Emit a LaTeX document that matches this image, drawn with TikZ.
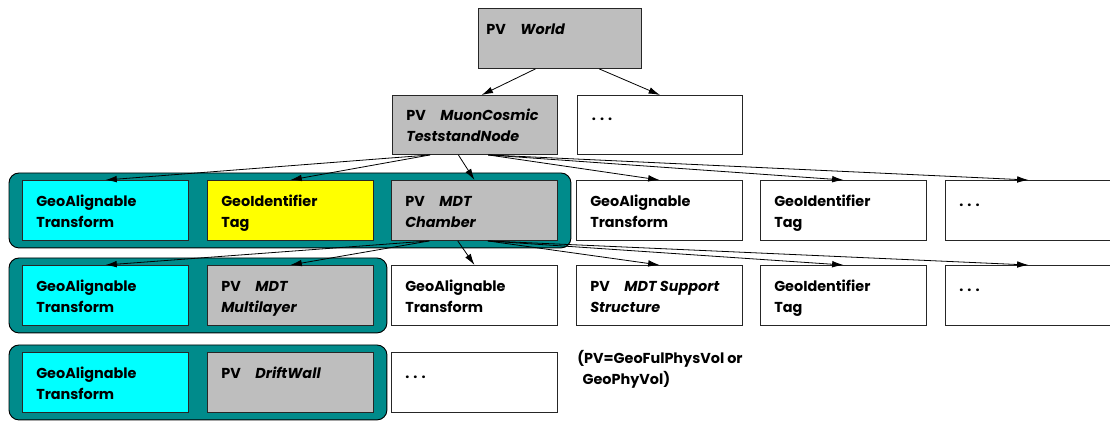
\documentclass[tikz,border=0pt]{standalone}
\usepackage{fontspec}
\setmainfont{Poppins}
\usetikzlibrary{arrows.meta,fit,calc,backgrounds}

\definecolor{grpteal}{RGB}{0,139,139}
\definecolor{pvgray}{RGB}{190,190,190}
\definecolor{gacyan}{RGB}{0,255,255}
\definecolor{tagyellow}{RGB}{255,255,0}

% two-line label whose baseline is the first line
\newcommand\lbl[1]{\begin{tabular}[t]{@{}l@{}}#1\end{tabular}}
\newcommand\pv[1]{PV\hspace{11pt}\textit{#1}}

\tikzset{
  x=0.75pt, y=-0.75pt,
  box/.style={draw=black!85, line width=0.7pt, anchor=north west, inner sep=0pt,
              minimum width=124.5pt, minimum height=45pt, fill=white},
  txt/.style={anchor=base west, inner sep=0pt,
              font=\fontsize{10.8}{15.6}\selectfont\bfseries},
  group/.style={draw=black, line width=0.7pt, fill=grpteal, rounded corners=7.5pt,
                inner xsep=9.75pt, inner ysep=5.25pt},
  conn/.style={line width=0.6pt, -{Latex[length=8.5pt,width=5pt]}},
}

\begin{document}
\begin{tikzpicture}
\useasboundingbox (0,0) rectangle (1110,423);

% ---- top levels
\node[box, fill=pvgray, minimum width=122.25pt] (world) at (478,8) {};
\node[txt] (world-t) at ([xshift=6pt,yshift=-20.25pt]world.north west) {\lbl{\pv{World}}};

\node[box, fill=pvgray, minimum width=123.75pt, minimum height=44.25pt] (mcn) at (392,95) {};
\node[txt] (mcn-t) at ([xshift=10.5pt,yshift=-19pt]mcn.north west) {\lbl{\pv{MuonCosmic}\\\textit{TeststandNode}}};

\node[box, minimum width=123.75pt, minimum height=44.25pt] (topdots) at (577,95) {};
\node[txt] (topdots-t) at ([xshift=11pt,yshift=-19pt]topdots.north west) {. . .};

% ---- row 1
\node[box, fill=gacyan]    (r1a) at (22,180) {};
\node[box, fill=tagyellow] (r1b) at (207,180) {};
\node[box, fill=pvgray]    (r1c) at (391,180) {};
\node[box] (r1d) at (576,180) {};
\node[box] (r1e) at (760,180) {};
\node[box] (r1f) at (945,180) {};

% ---- row 2
\node[box, fill=gacyan] (r2a) at (22,265) {};
\node[box, fill=pvgray] (r2b) at (207,265) {};
\node[box] (r2c) at (391,265) {};
\node[box] (r2d) at (576,265) {};
\node[box] (r2e) at (760,265) {};
\node[box] (r2f) at (945,265) {};

% ---- row 3
\node[box, fill=gacyan] (r3a) at (22,352) {};
\node[box, fill=pvgray] (r3b) at (207,352) {};
\node[box] (r3c) at (391,352) {};

% ---- teal groupings behind the boxes
\begin{pgfonlayer}{background}
  \node[group, fit=(r1a)(r1c)] (g1) {};
  \node[group, fit=(r2a)(r2b)] (g2) {};
  \node[group, fit=(r3a)(r3b)] (g3) {};
\end{pgfonlayer}

% ---- labels
\foreach \n/\t in {
  r1a/{GeoAlignable\\Transform},
  r1b/{GeoIdentifier\\Tag},
  r1c/{\pv{MDT}\\\textit{Chamber}},
  r1d/{GeoAlignable\\Transform},
  r1e/{GeoIdentifier\\Tag},
  r1f/{. . .},
  r2a/{GeoAlignable\\Transform},
  r2b/{\pv{MDT}\\\textit{Multilayer}},
  r2c/{GeoAlignable\\Transform},
  r2d/{\pv{MDT Support}\\\textit{Structure}},
  r2e/{GeoIdentifier\\Tag},
  r2f/{. . .},
  r3a/{GeoAlignable\\Transform},
  r3b/{\pv{DriftWall}},
  r3c/{. . .}}
  \node[txt] (\n-t) at ([xshift=10.5pt,yshift=-20pt]\n.north west) {\lbl{\t}};

\node[txt] (note) at (577,364) {\lbl{(PV=GeoFulPhysVol or\\\hspace{4pt}GeoPhyVol)}};

% ---- connectors
\draw[conn] ($(world.south west)!0.35!(world.south east)$) -- ([xshift=5pt]mcn.north);
\draw[conn] ($(world.south west)!0.74!(world.south east)$) -- (topdots.north);

\foreach \t in {r1a,r1b}
  \draw[conn] ($(mcn.south west)!0.23!(mcn.south east)$) -- (\t.north);
\draw[conn] ($(mcn.south west)!0.40!(mcn.south east)$) -- (r1c.north);
\foreach \t in {r1d,r1e,r1f}
  \draw[conn] ($(mcn.south west)!0.58!(mcn.south east)$) -- (\t.north);

\foreach \t in {r2a,r2b}
  \draw[conn] ($(r1c.south west)!0.23!(r1c.south east)$) -- (\t.north);
\draw[conn] ($(r1c.south west)!0.40!(r1c.south east)$) -- (r2c.north);
\foreach \t in {r2d,r2e,r2f}
  \draw[conn] ($(r1c.south west)!0.58!(r1c.south east)$) -- (\t.north);
\end{tikzpicture}
\end{document}
